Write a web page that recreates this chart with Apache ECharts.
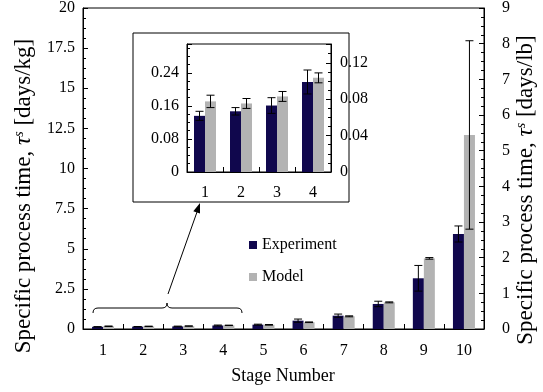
<!DOCTYPE html>
<html>
<head>
<meta charset="utf-8">
<script src="https://cdn.jsdelivr.net/npm/echarts@6/dist/echarts.min.js"></script>
<style>html,body{margin:0;padding:0;background:#fff}#c{width:543px;height:392px}</style>
</head>
<body>
<div id="c"></div>
<script>
// ---- data (days/kg) ----
const stages = ['1','2','3','4','5','6','7','8','9','10'];
const insetStages = ['1','2','3','4'];
const expVal   = [0.136, 0.147, 0.161, 0.218, 0.27, 0.52, 0.83, 1.56, 3.16, 5.92];
const expErr   = [0.011, 0.009, 0.019, 0.029, 0.03, 0.10, 0.10, 0.17, 0.80, 0.50];
const modelVal = [0.171, 0.166, 0.183, 0.228, 0.26, 0.42, 0.79, 1.66, 4.40, 12.09];
const modelErr = [0.015, 0.012, 0.012, 0.012, 0.02, 0.02, 0.03, 0.03, 0.05, 5.87];
const leftTicks = [0, 2.5, 5, 7.5, 10, 12.5, 15, 17.5, 20];
const rightTicks = [0,1,2,3,4,5,6,7,8,9];
const insetLeftTicks = [0, 0.08, 0.16, 0.24];
const insetRightTicks = [0, 0.04, 0.08, 0.12];

const FONT = '"Liberation Serif", "DejaVu Serif", serif';
const NAVY = '#10074d';
const GREY = '#b3b3b3';
const BW = 11;

const chart = echarts.init(document.getElementById('c'), null, {renderer:'canvas'});

function errSeries(name, vals, errs, n, xi, yi, sign){
  const data = [];
  for (let i=0;i<n;i++) data.push([i, vals[i], errs[i]]);
  return {
    name: name, type:'custom', xAxisIndex: xi, yAxisIndex: yi, z: 10,
    data: data,
    renderItem: function(params, api){
      const i = api.value(0), v = api.value(1), e = api.value(2);
      const c = api.coord([i, v]);
      const hi = api.coord([i, v+e]);
      const lo = api.coord([i, Math.max(0, v-e)]);
      const x = c[0] + sign*BW/2;
      const cap = 4;
      const st = {stroke:'#000', lineWidth:1};
      return {type:'group', children:[
        {type:'line', shape:{x1:x,y1:hi[1],x2:x,y2:lo[1]}, style:st},
        {type:'line', shape:{x1:x-cap,y1:hi[1],x2:x+cap,y2:hi[1]}, style:st},
        {type:'line', shape:{x1:x-cap,y1:lo[1],x2:x+cap,y2:lo[1]}, style:st}
      ]};
    }
  };
}

const axisLine = {show:true, lineStyle:{color:'#000', width:1}};
const lbl = {color:'#000', fontFamily:FONT, fontSize:16};

function yAx(gi, pos, min, max, interval, ticks, margin, split){
  return {
    type:'value', gridIndex: gi, position: pos, min:min, max:max, interval:interval,
    axisLine: axisLine,
    axisTick:{show:true, inside:true, length:5, lineStyle:{color:'#000'}},
    minorTick:{show:true, splitNumber:split, length:3, lineStyle:{color:'#000'}},
    splitLine:{show:false},
    axisLabel: Object.assign({margin:margin, formatter: function(v){
      for (const t of ticks) if (Math.abs(t-v)<1e-9) return String(t);
      return '';
    }}, lbl)
  };
}

const bz = (x1,y1,cx,cy,x2,y2) => ({type:'bezierCurve', shape:{x1:x1,y1:y1,cpx1:cx,cpy1:cy,x2:x2,y2:y2}, style:{fill:null, stroke:'#000', lineWidth:1}});
const ln = (x1,y1,x2,y2) => ({type:'line', shape:{x1:x1,y1:y1,x2:x2,y2:y2}, style:{stroke:'#000', lineWidth:1}});

const titleRich = {
  a:{fontFamily:FONT, fontSize:23, fill:'#000'},
  t:{fontFamily:FONT, fontSize:23, fontStyle:'italic', fill:'#000'},
  s:{fontFamily:FONT, fontSize:14, fontStyle:'italic', fill:'#000', verticalAlign:'top', padding:[0,0,9,0]}
};

const option = {
  animation:false,
  backgroundColor:'#fff',
  grid:[
    {left:83, top:7, width:401, height:322, show:true, borderColor:'#000', borderWidth:1, backgroundColor:'transparent'},
    {left:187, top:44, width:144, height:128, show:true, borderColor:'#000', borderWidth:1, backgroundColor:'transparent'}
  ],
  legend:{
    orient:'vertical', left:244, top:232, itemWidth:8, itemHeight:8, itemGap:16,
    icon:'rect', data:['Experiment','Model'],
    textStyle:{color:'#000', fontFamily:FONT, fontSize:16, lineHeight:16}
  },
  xAxis:[
    {type:'category', gridIndex:0, data:stages, axisLine:axisLine,
     axisTick:{show:true, inside:true, length:5, alignWithLabel:false, lineStyle:{color:'#000'}},
     axisLabel:Object.assign({margin:14}, lbl)},
    {type:'category', gridIndex:1, data:insetStages, axisLine:axisLine,
     axisTick:{show:true, inside:true, length:5, alignWithLabel:false, lineStyle:{color:'#000'}},
     axisLabel:Object.assign({margin:13}, lbl)}
  ],
  yAxis:[
    yAx(0,'left',0,20,2.5,leftTicks,8,4),
    yAx(0,'right',0,9,1,rightTicks,18,4),
    yAx(1,'left',0,0.31,0.08,insetLeftTicks,8,4),
    yAx(1,'right',0,0.1406,0.04,insetRightTicks,9,4)
  ],
  series:[
    {name:'Experiment', type:'bar', xAxisIndex:0, yAxisIndex:0, barWidth:BW, barGap:'0%', itemStyle:{color:NAVY}, data:expVal},
    {name:'Model', type:'bar', xAxisIndex:0, yAxisIndex:0, barWidth:BW, barGap:'0%', itemStyle:{color:GREY}, data:modelVal},
    {name:'Experiment', type:'bar', xAxisIndex:1, yAxisIndex:2, barWidth:BW, barGap:'0%', itemStyle:{color:NAVY}, data:expVal.slice(0,4)},
    {name:'Model', type:'bar', xAxisIndex:1, yAxisIndex:2, barWidth:BW, barGap:'0%', itemStyle:{color:GREY}, data:modelVal.slice(0,4)},
    errSeries('errE', expVal, expErr, 10, 0, 0, -1),
    errSeries('errM', modelVal, modelErr, 10, 0, 0, 1),
    errSeries('errE2', expVal, expErr, 4, 1, 2, -1),
    errSeries('errM2', modelVal, modelErr, 4, 1, 2, 1)
  ],
  graphic:[
    {type:'rect', shape:{x:133, y:33, width:216, height:169}, style:{fill:null, stroke:'#000', lineWidth:1}, z:1},
    bz(93,313, 93,308, 98,308),
    ln(98,308,162,308),
    bz(162,308, 167,308, 167,303),
    bz(167,303, 167,308, 172,308),
    ln(172,308,237,308),
    bz(237,308, 242,308, 242,313),
    ln(168,294,197,212),
    {type:'polygon', shape:{points:[[200,203],[200,213.6],[193.3,211.2]]}, style:{fill:'#000'}},
    {type:'text', x:24, y:196, rotation:Math.PI/2,
     style:{text:'{a|Specific process time, }{t|τ}{s|s}{a| [days/kg]}', align:'center', verticalAlign:'middle', rich:titleRich}},
    {type:'text', x:526, y:190, rotation:Math.PI/2,
     style:{text:'{a|Specific process time, }{t|τ}{s|s}{a| [days/lb]}', align:'center', verticalAlign:'middle', rich:titleRich}},
    {type:'text', x:283, y:376, style:{text:'Stage Number', fontFamily:FONT, fontSize:18, fill:'#000', align:'center', verticalAlign:'middle'}}
  ]
};
chart.setOption(option);
</script>
</body>
</html>
